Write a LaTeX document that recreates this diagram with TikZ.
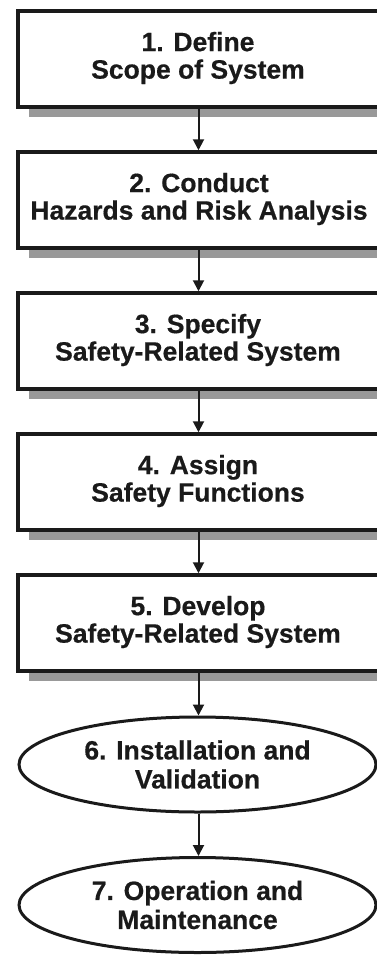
\documentclass[tikz,border=0pt]{standalone}
\usepackage{fontspec}
\setmainfont{Liberation Sans}[FakeBold=0.5]
\usetikzlibrary{arrows.meta,shapes.geometric,shadows}
\definecolor{shadowgray}{HTML}{999999}
\definecolor{inkcolor}{HTML}{1A1A1A}
\begin{document}
\begin{tikzpicture}[x=1pt,y=-1pt,
  stepbox/.style={draw=inkcolor, line width=3.5pt, fill=white,
    minimum width=382pt, minimum height=96pt, inner sep=0pt,
    general shadow={fill=shadowgray, shadow xshift=11pt, shadow yshift=-10pt}},
  steptext/.style={align=center, inner sep=0pt, text=inkcolor,
    font=\bfseries\fontsize{26.5}{27.5}\selectfont},
  stepoval/.style={ellipse, draw=inkcolor, line width=3pt, fill=white,
    minimum width=357pt, minimum height=95pt, inner sep=0pt, align=center,
    text=inkcolor, font=\bfseries\fontsize{26.5}{29}\selectfont},
  flow/.style={draw=inkcolor, line width=2pt, -{Triangle[width=11pt,length=11pt]}}]
\path[use as bounding box, clip] (0,0) rectangle (377,955);
% boxes
\node[stepbox] (b1) at (209,59) {};
\node[stepbox] (b2) at (209,200) {};
\node[stepbox] (b3) at (209,341) {};
\node[stepbox] (b4) at (209,482) {};
\node[stepbox] (b5) at (209,623) {};
\node[steptext] (t1) at (198,58) {1. Define\\Scope of System};
\node[steptext] (t2) at (199,199) {2. Conduct\\Hazards and Risk Analysis};
\node[steptext] (t3) at (198,340) {3. Specify\\Safety-Related System};
\node[steptext] (t4) at (198,481) {4. Assign\\Safety Functions};
\node[steptext] (t5) at (198,622) {5. Develop\\Safety-Related System};
\node[stepoval] (e6) at (197.5,764.5) {6. Installation and\\Validation};
\node[stepoval] (e7) at (197.5,905) {7. Operation and\\Maintenance};
% connectors
\coordinate (ax) at (198.5,0);
\draw[flow] (b1.south -| ax) -- (b2.north -| ax);
\draw[flow] (b2.south -| ax) -- (b3.north -| ax);
\draw[flow] (b3.south -| ax) -- (b4.north -| ax);
\draw[flow] (b4.south -| ax) -- (b5.north -| ax);
\draw[flow] (b5.south -| ax) -- (e6.north -| ax);
\draw[flow] (e6.south -| ax) -- (e7.north -| ax);
\end{tikzpicture}
\end{document}
